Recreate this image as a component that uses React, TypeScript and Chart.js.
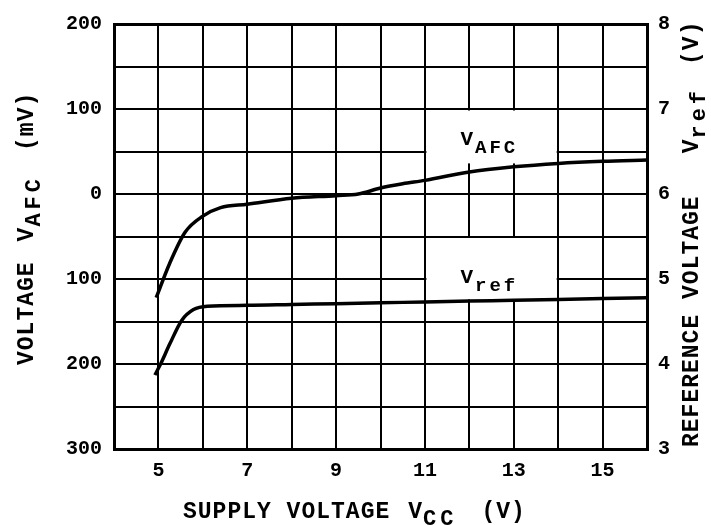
import React, { useEffect, useRef } from 'react';
import { Chart, registerables } from 'chart.js';

Chart.register(...registerables);

// ---- data ----
const vccAfc = [4.95, 5.25, 5.6, 6.0, 6.4, 7, 8, 9, 9.5, 10, 10.5, 11, 12, 13, 14, 15, 16];
const vafc = [-122, -82, -45, -26, -16, -12, -5, -2, 0, 7, 12, 16, 26, 32, 36, 38.5, 40];

const vccRef = [4.92, 5.04, 5.26, 5.52, 5.79, 6.1, 7, 8, 9, 10, 11, 12, 13, 14, 15, 16];
const vref = [3.87, 3.99, 4.24, 4.51, 4.64, 4.68, 4.69, 4.7, 4.71, 4.72, 4.73, 4.74, 4.75, 4.76, 4.77, 4.78];

const xTickValues = [5, 7, 9, 11, 13, 15];
const xTickLabels = ['5', '7', '9', '11', '13', '15'];
const leftTickValues = [-300, -200, -100, 0, 100, 200];
const leftTickLabels = ['300', '200', '100', '0', '100', '200'];
const rightTickValues = [3, 4, 5, 6, 7, 8];
const rightTickLabels = ['3', '4', '5', '6', '7', '8'];

const MONO = '"Liberation Mono", "DejaVu Sans Mono", monospace';
const TICK_FONT = { family: MONO, size: 20, weight: 'bold' as const };

type Seg = { t: string; sub?: boolean; gap?: number };

// Draws a title made of segments (subscripts lowered). (tx,ty) is the start of
// the text on its main baseline; rot is the rotation of the reading direction.
function drawRich(ctx: CanvasRenderingContext2D, segs: Seg[], tx: number, ty: number, rot: number) {
  const mainFont = `bold 23px ${MONO}`;
  const subFont = `bold 22px ${MONO}`;
  ctx.save();
  ctx.translate(tx, ty);
  ctx.rotate(rot);
  ctx.fillStyle = '#000';
  ctx.textBaseline = 'alphabetic';
  ctx.textAlign = 'left';
  const setFont = (s: Seg) => {
    ctx.font = s.sub ? subFont : mainFont;
    (ctx as any).letterSpacing = s.sub ? '4px' : '1px';
  };
  let x = 0;
  segs.forEach((s) => {
    x += s.gap || 0;
    setFont(s);
    ctx.fillText(s.t, x, s.sub ? 7 : 0);
    x += ctx.measureText(s.t).width;
  });
  ctx.restore();
}

function drawLabel(ctx: CanvasRenderingContext2D, main: string, sub: string, x: number, y: number) {
  ctx.save();
  ctx.fillStyle = '#000';
  ctx.textBaseline = 'alphabetic';
  ctx.textAlign = 'left';
  ctx.font = `bold 21px ${MONO}`;
  (ctx as any).letterSpacing = '0px';
  ctx.fillText(main, x, y);
  const w = ctx.measureText(main).width;
  ctx.font = `bold 19px ${MONO}`;
  (ctx as any).letterSpacing = '3px';
  ctx.fillText(sub, x + w + 2, y + 8);
  ctx.restore();
}

const annotPlugin = {
  id: 'annot',
  beforeDatasetsDraw(chart: any) {
    const { ctx, scales } = chart;
    const xs = scales.x;
    const y1 = scales.y1;
    ctx.save();
    ctx.fillStyle = '#fff';
    const boxes = [
      [11, 14, 7, 6.36],
      [11, 14, 5.5, 4.76],
    ];
    boxes.forEach(([xa, xb, ya, yb]) => {
      const l = xs.getPixelForValue(xa) + 1.5;
      const r = xs.getPixelForValue(xb) - 1.5;
      const t = y1.getPixelForValue(ya) + 1.5;
      const b = y1.getPixelForValue(yb);
      ctx.fillRect(l, t, r - l, b - t);
    });
    ctx.restore();
  },
  afterDraw(chart: any) {
    const { ctx, scales } = chart;
    const xs = scales.x;
    const y1 = scales.y1;
    drawLabel(ctx, 'V', 'AFC', xs.getPixelForValue(11.8), y1.getPixelForValue(6.58));
    drawLabel(ctx, 'V', 'ref', xs.getPixelForValue(11.8), y1.getPixelForValue(4.95));
    // axis titles
    drawRich(
      ctx,
      [{ t: 'VOLTAGE' }, { t: 'V', gap: 20 }, { t: 'AFC', sub: true }, { t: '(mV)', gap: 24 }],
      33,
      365,
      -Math.PI / 2
    );
    drawRich(
      ctx,
      [{ t: 'REFERENCE VOLTAGE' }, { t: 'V', gap: 42 }, { t: 'ref', sub: true }, { t: '(V)', gap: 22 }],
      698,
      447,
      -Math.PI / 2
    );
    drawRich(
      ctx,
      [{ t: 'SUPPLY VOLTAGE' }, { t: 'V', gap: 18 }, { t: 'CC', sub: true }, { t: '(V)', gap: 24 }],
      183,
      518,
      0
    );
  },
};

function edgeWidth(min: number, max: number) {
  return (c: any) => (c.tick && (c.tick.value === min || c.tick.value === max) ? 3 : 2);
}

export default function App() {
  const ref = useRef<HTMLCanvasElement | null>(null);
  useEffect(() => {
    document.body.style.margin = '0';
    const canvas = ref.current!;
    const chart = new Chart(canvas, {
      type: 'line',
      data: {
        datasets: [
          {
            label: 'VAFC',
            data: vccAfc.map((x, i) => ({ x, y: vafc[i] })),
            yAxisID: 'y',
            borderColor: '#000',
            borderWidth: 3.5,
            pointRadius: 0,
            cubicInterpolationMode: 'monotone',
            fill: false,
          },
          {
            label: 'Vref',
            data: vccRef.map((x, i) => ({ x, y: vref[i] })),
            yAxisID: 'y1',
            borderColor: '#000',
            borderWidth: 3.5,
            pointRadius: 0,
            cubicInterpolationMode: 'monotone',
            fill: false,
          },
        ],
      },
      options: {
        animation: false,
        responsive: false,
        layout: { padding: { top: 16, left: 0, right: 0, bottom: 0 } },
        plugins: { legend: { display: false }, tooltip: { enabled: false } },
        scales: {
          x: {
            type: 'linear',
            min: 4,
            max: 16,
            afterFit: (s: any) => {
              s.height = 76;
            },
            ticks: {
              stepSize: 1,
              autoSkip: false,
              maxRotation: 0,
              padding: 10,
              color: '#000',
              font: TICK_FONT,
              callback: (v: any) => {
                const i = xTickValues.indexOf(Number(v));
                return i >= 0 ? xTickLabels[i] : '';
              },
            },
            grid: { color: '#000', lineWidth: edgeWidth(4, 16), drawTicks: false },
            border: { display: true, color: '#000', width: 3 },
          },
          y: {
            position: 'left',
            min: -300,
            max: 200,
            afterFit: (s: any) => {
              s.width = 114;
            },
            ticks: {
              stepSize: 50,
              autoSkip: false,
              padding: 12,
              color: '#000',
              font: TICK_FONT,
              callback: (v: any) => {
                const i = leftTickValues.indexOf(Number(v));
                return i >= 0 ? leftTickLabels[i] : '';
              },
            },
            grid: { color: '#000', lineWidth: edgeWidth(-300, 200), drawTicks: false },
            border: { display: true, color: '#000', width: 3 },
          },
          y1: {
            position: 'right',
            min: 3,
            max: 8,
            afterFit: (s: any) => {
              s.width = 64;
            },
            ticks: {
              stepSize: 1,
              autoSkip: false,
              padding: 11,
              color: '#000',
              font: TICK_FONT,
              callback: (v: any) => {
                const i = rightTickValues.indexOf(Number(v));
                return i >= 0 ? rightTickLabels[i] : '';
              },
            },
            grid: { drawOnChartArea: false, drawTicks: false },
            border: { display: true, color: '#000', width: 3 },
          },
        },
      },
      plugins: [annotPlugin],
    });
    return () => chart.destroy();
  }, []);
  return (
    <div style={{ width: 711, height: 525, background: '#fff' }}>
      <canvas ref={ref} width={711} height={525} />
    </div>
  );
}
